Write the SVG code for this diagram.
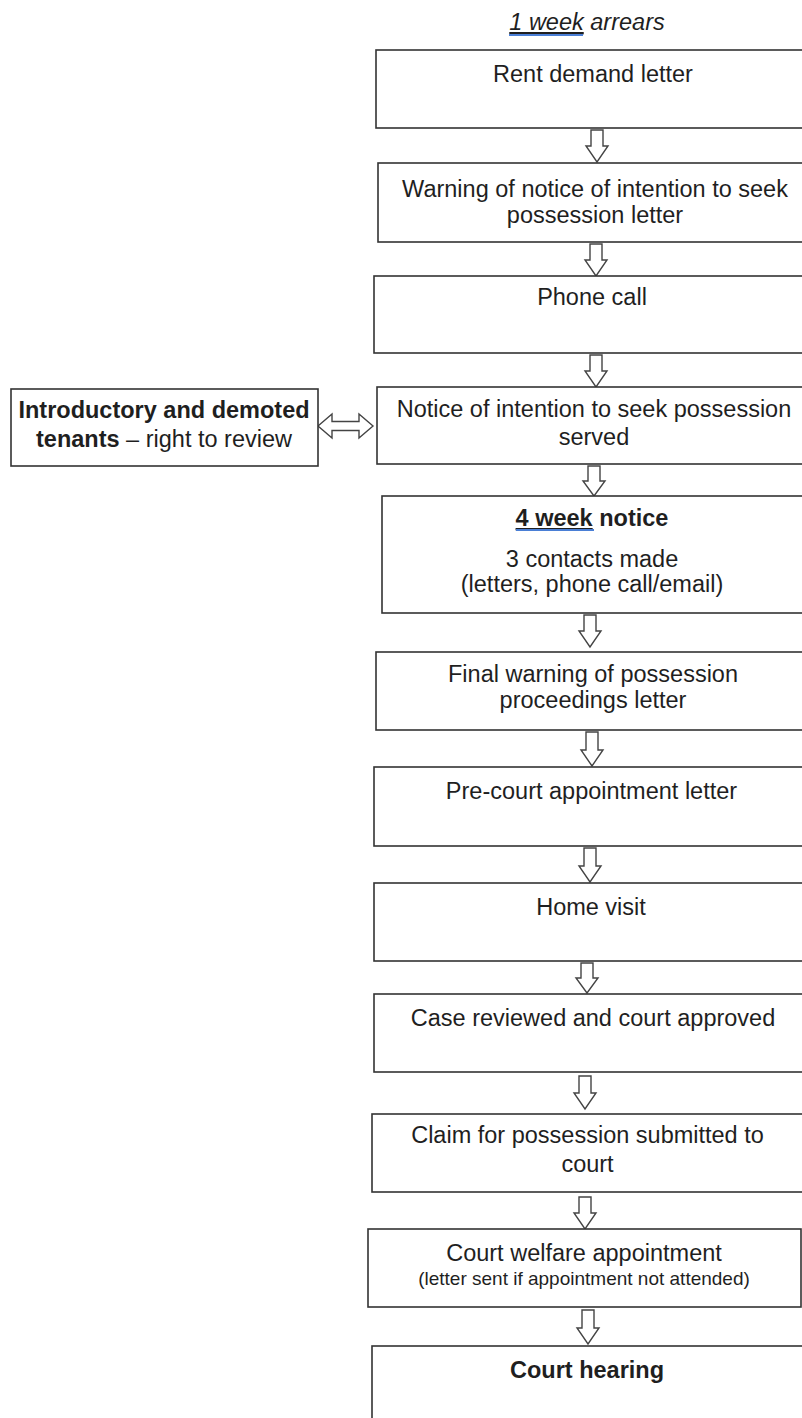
<svg xmlns="http://www.w3.org/2000/svg" width="802" height="1418" viewBox="0 0 802 1418">
<style>
.box{fill:#fff;stroke:#333;stroke-width:1.6}
.arr{fill:#fff;stroke:#444;stroke-width:1.4;stroke-linejoin:miter}
text{font-family:"Liberation Sans",Arial,sans-serif;font-size:23.5px;fill:#1f1f1f;text-anchor:middle}
.b{font-weight:bold}
.sm{font-size:19px}
.blue{stroke:#4a7fd6;stroke-width:2}
</style>
<rect width="802" height="1418" fill="#fff"/>
<g id="title">
<text x="587" y="30" font-style="italic"><tspan text-decoration="underline">1 week</tspan> arrears</text>
<line class="blue" x1="509" y1="35" x2="583" y2="35"/>
</g>
<g id="connectors">
<path class="arr" d="M591,130 V146 H586 L597,162 L608,146 H603 V130 Z"/>
<path class="arr" d="M590,244 V260 H585 L596,276 L607,260 H602 V244 Z"/>
<path class="arr" d="M590,355 V371 H585 L596,387 L607,371 H602 V355 Z"/>
<path class="arr" d="M588,466 V481 H583 L594,496 L605,481 H600 V466 Z"/>
<path class="arr" d="M584,615 V631 H579 L590,647 L601,631 H596 V615 Z"/>
<path class="arr" d="M586,732 V750 H581 L592,766 L603,750 H598 V732 Z"/>
<path class="arr" d="M584,848 V866 H579 L590,882 L601,866 H596 V848 Z"/>
<path class="arr" d="M581,963 V978 H576 L587,993 L598,978 H593 V963 Z"/>
<path class="arr" d="M579,1076 V1093 H574 L585,1109 L596,1093 H591 V1076 Z"/>
<path class="arr" d="M579,1197 V1213 H574 L585,1229 L596,1213 H591 V1197 Z"/>
<path class="arr" d="M582,1310 V1328 H577 L588,1344 L599,1328 H594 V1310 Z"/>
<path class="arr" d="M318,426 L332,414 V421.5 H359 V414 L373,426 L359,438 V430.5 H332 V438 Z"/>
</g>
<g id="n1"><rect class="box" x="376" y="50" width="440" height="78"/><text x="593" y="82">Rent demand letter</text></g>
<g id="n2"><rect class="box" x="378" y="163" width="440" height="79"/><text x="595" y="197">Warning of notice of intention to seek</text><text x="595" y="223">possession letter</text></g>
<g id="n3"><rect class="box" x="374" y="276" width="440" height="77"/><text x="592" y="305">Phone call</text></g>
<g id="n4"><rect class="box" x="377" y="387" width="440" height="77"/><text x="594" y="417">Notice of intention to seek possession</text><text x="594" y="445">served</text></g>
<g id="side"><rect class="box" x="11" y="389" width="307" height="77"/><text x="164" y="418" class="b">Introductory and demoted</text><text x="164" y="447"><tspan class="b">tenants</tspan> – right to review</text></g>
<g id="n5"><rect class="box" x="382" y="496" width="440" height="117"/><text x="592" y="526"><tspan class="b" text-decoration="underline">4 week</tspan><tspan class="b"> notice</tspan></text><line class="blue" x1="516" y1="530" x2="594" y2="530"/><text x="592" y="567">3 contacts made</text><text x="592" y="592">(letters, phone call/email)</text></g>
<g id="n6"><rect class="box" x="376" y="652" width="440" height="78"/><text x="593" y="682">Final warning of possession</text><text x="593" y="708">proceedings letter</text></g>
<g id="n7"><rect class="box" x="374" y="767" width="440" height="79"/><text x="591.5" y="799">Pre-court appointment letter</text></g>
<g id="n8"><rect class="box" x="374" y="883" width="440" height="78"/><text x="591" y="915">Home visit</text></g>
<g id="n9"><rect class="box" x="374" y="994" width="440" height="78"/><text x="593" y="1026">Case reviewed and court approved</text></g>
<g id="n10"><rect class="box" x="372" y="1114" width="440" height="78"/><text x="587.5" y="1143">Claim for possession submitted to</text><text x="587.5" y="1172">court</text></g>
<g id="n11"><rect class="box" x="368" y="1229" width="433" height="78"/><text x="584" y="1261">Court welfare appointment</text><text x="584" y="1285" class="sm">(letter sent if appointment not attended)</text></g>
<g id="n12"><rect class="box" x="372" y="1346" width="440" height="100"/><text x="587" y="1378" class="b">Court hearing</text></g>
</svg>
